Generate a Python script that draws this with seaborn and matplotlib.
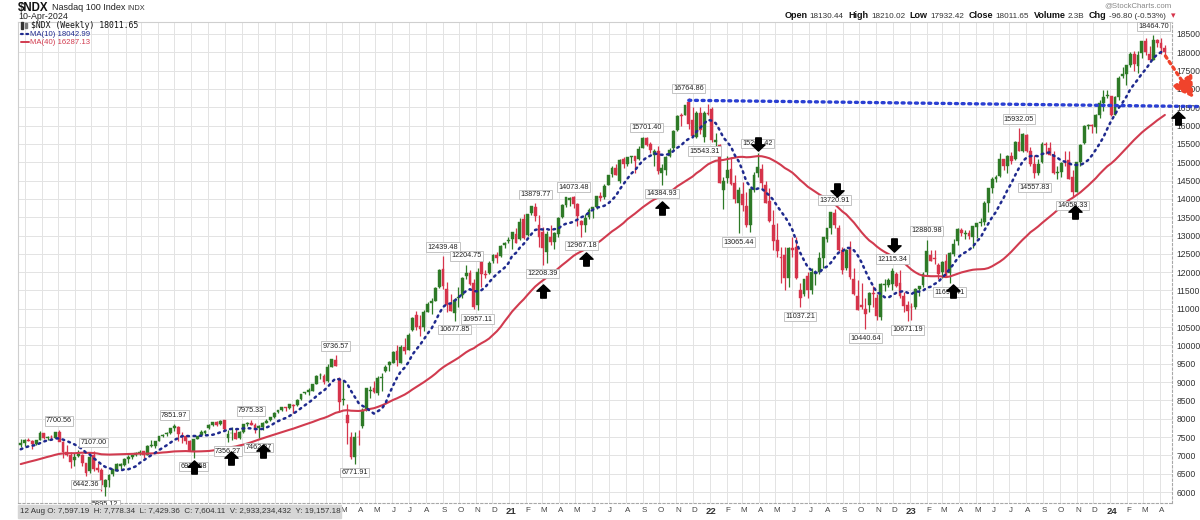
import numpy as np
import pandas as pd
import matplotlib
matplotlib.use("Agg")
import matplotlib.pyplot as plt
import matplotlib.dates as mdates
import matplotlib.transforms as mtransforms
from matplotlib.path import Path
from matplotlib.patches import Rectangle
from matplotlib.lines import Line2D
import seaborn as sns

# ---------------- data (weekly NDX candles) ----------------
PRE_FIRST_WEEK = "2017-10-23"      # closes before the visible window (moving-average warm-up)
pre_close = [6240, 6300, 6310, 6320, 6420, 6350, 6330, 6440, 6440, 6400,
             6600, 6720, 6830, 7000, 6750, 6480, 6780, 6880, 6850,
             7110, 7030, 6560, 6580, 6470, 6650, 6670, 6680, 6770,
             6960, 6920, 6960, 7070, 7100, 7220, 7140, 7040, 7170, 7330, 7290]

FIRST_WEEK = "2018-07-23"
open_2018 = [7290, 7330, 7420, 7400, 7300, 7430, 7610, 7480, 7500, 7480, 7640, 7360, 7100, 7010, 6860,
             6980, 7000, 6780, 6560, 7010, 6650, 6610, 6150, 6330]
high_2018 = [7460, 7440, 7480, 7410, 7430, 7660, 7620, 7520, 7560, 7630, 7700.56, 7380, 7270, 7100, 7060,
             7150, 7030, 6790, 6990, 7107.00, 6800, 6660, 6360, 6480]
low_2018 = [7240, 7250, 7390, 7180, 7290, 7420, 7440, 7430, 7420, 7470, 7420, 6920, 6980, 6650, 6700,
            6950, 6700, 6442.36, 6520, 6580, 6550, 6040, 5895.12, 6140]
close_2018 = [7340, 7420, 7400, 7300, 7420, 7620, 7480, 7510, 7490, 7630, 7360, 7100, 7010, 6830, 6960,
              7030, 6800, 6530, 6950, 6640, 6600, 6190, 6330, 6460]

open_2019 = [6480, 6580, 6720, 6750, 6890, 6960, 7010, 7070, 7110, 7010, 7260, 7250,
             7400, 7530, 7580, 7600, 7740, 7780, 7550, 7520, 7380, 7110, 7450, 7550, 7620,
             7740, 7830, 7900, 7850, 7960, 7480, 7597.19, 7620, 7480, 7630, 7860, 7890, 7840, 7740,
             7780, 7880, 7960, 8050, 8180, 8230, 8320, 8290, 8380, 8380, 8530, 8690, 8740]
high_2019 = [6630, 6780, 6790, 6930, 7010, 7010, 7080, 7140, 7130, 7280, 7410, 7400,
             7530, 7580, 7630, 7760, 7851.97, 7790, 7640, 7560, 7420, 7460, 7540, 7690, 7690,
             7850, 7920, 7940, 7960, 7960, 7680, 7778.34, 7730, 7660, 7860, 7900, 7975.33, 7870, 7820,
             7900, 7990, 8060, 8170, 8240, 8320, 8330, 8410, 8400, 8530, 8680, 8740, 8830]
low_2019 = [6430, 6560, 6640, 6720, 6800, 6910, 6980, 7020, 6940, 7000, 7220, 7200,
            7390, 7500, 7540, 7580, 7660, 7380, 7330, 7320, 7130, 6936.58, 7440, 7540, 7580,
            7730, 7800, 7800, 7840, 7680, 7356.27, 7429.36, 7450, 7460, 7600, 7800, 7820, 7620, 7462.37,
            7700, 7870, 7930, 8010, 8150, 8200, 8210, 8270, 8150, 8350, 8520, 8680, 8650]
close_2019 = [6620, 6760, 6760, 6890, 6960, 7000, 7060, 7100, 7000, 7250, 7260, 7380,
              7530, 7560, 7600, 7740, 7790, 7570, 7530, 7390, 7130, 7450, 7530, 7630, 7670,
              7830, 7900, 7830, 7950, 7710, 7580, 7604.11, 7460, 7650, 7850, 7880, 7840, 7700, 7800,
              7880, 7950, 8040, 8160, 8230, 8310, 8280, 8400, 8340, 8500, 8670, 8730, 8790]

open_2020 = [8760, 8960, 9180, 9170, 9020, 9420, 9610, 9080, 8500, 8100, 7500, 6960, 7500,
             7800, 8230, 8760, 8840, 8690, 9100, 9300, 9470, 9530, 9860, 9530, 9960, 9880,
             10410, 10830, 10530, 10500, 10920, 11160, 11220, 11600, 12080, 11550, 11140, 10890, 11300,
             11380, 11900, 11970, 11700, 11100, 12280, 11960, 11990, 12300, 12470, 12430, 12750, 12860]
high_2020 = [8960, 9180, 9250, 9220, 9480, 9630, 9736.57, 9150, 9070, 8400, 7640, 7650, 7700,
             8300, 8840, 8880, 9020, 9160, 9260, 9460, 9580, 9850, 10000, 10000, 10200, 10340,
             10780, 10950, 10820, 10960, 11190, 11290, 11590, 12080, 12439.48, 11720, 11400, 11300, 11590,
             11860, 12204.75, 12050, 11800, 12100, 12300, 12050, 12300, 12500, 12560, 12730, 12810, 12960]
low_2020 = [8760, 8940, 9080, 8960, 9000, 9400, 9440, 8190, 8380, 7300, 6900, 6771.91, 7280,
            7760, 8200, 8570, 8700, 8650, 8750, 9280, 9290, 9510, 9440, 9520, 9760, 9870,
            10390, 10430, 10250, 10400, 10920, 10870, 11200, 11560, 11530, 10900, 10930, 10677.85, 11060,
            11300, 11800, 11650, 11000, 10957.11, 11590, 11850, 11960, 12240, 12250, 12420, 12650, 12790]
close_2020 = [8950, 9170, 9180, 8990, 9400, 9620, 9450, 8460, 8530, 7880, 6960, 7500, 7490,
              8230, 8830, 8790, 8720, 9120, 9150, 9410, 9550, 9810, 9590, 9950, 9850, 10290,
              10760, 10500, 10460, 10910, 11130, 11200, 11570, 12050, 11620, 11090, 10940, 11240, 11330,
              11850, 11970, 11680, 11050, 12000, 11940, 11910, 12260, 12460, 12380, 12720, 12800, 12890]

open_2021 = [12910, 13050, 12900, 13450, 13020, 13610, 13790, 13300, 13100, 12560, 12960, 12810, 13050,
             13500, 13840, 13980, 14050, 13870, 13400, 13290, 13500, 13730, 13790, 14070, 14050, 14380,
             14680, 14850, 14500, 15100, 14960, 15150, 15170, 15080, 15400, 15670, 15500, 15200, 15300,
             14700, 14800, 15160, 15380, 15870, 16280, 16300, 16650, 16150, 15700, 16350, 15700, 16350]
high_2021 = [13100, 13200, 13480, 13600, 13600, 13810, 13879.77, 13550, 13230, 13130, 13300, 13100, 13500,
             13850, 14040, 14060, 14073.48, 13890, 13420, 13580, 13740, 13790, 14080, 14190, 14400, 14650,
             14900, 14950, 15080, 15130, 15150, 15180, 15170, 15430, 15700, 15701.40, 15560, 15350, 15450,
             14950, 15170, 15400, 15870, 16300, 16350, 16573, 16764.86, 16500, 16400, 16500, 16400, 16600]
low_2021 = [12630, 12790, 12880, 12900, 12990, 13560, 13400, 12700, 12208.39, 12250, 12750, 12620, 12960,
            13470, 13780, 13800, 13750, 13260, 12967.18, 13100, 13450, 13480, 13730, 13940, 14000, 14370,
            14600, 14650, 14440, 14840, 14890, 14990, 14700, 15070, 15380, 15450, 15240, 14900, 14680,
            14384.93, 14650, 15130, 15330, 15860, 16000, 16280, 15900, 15700, 15650, 15780, 15543.31, 16300]
close_2021 = [13100, 12800, 13370, 12930, 13590, 13800, 13530, 12950, 12670, 13030, 12810, 13060, 13480,
              13840, 14040, 14020, 13860, 13540, 13300, 13470, 13690, 13780, 14070, 14030, 14360, 14640,
              14830, 14650, 15050, 14960, 15130, 15150, 15030, 15370, 15650, 15460, 15330, 15310, 14770,
              14830, 15150, 15340, 15850, 16270, 16270, 16570, 16030, 15710, 16330, 15880, 16330, 16320]

open_2022 = [16440, 15560, 15460, 14250, 14560, 14810, 14440, 13880, 14130, 13800, 13300, 14250, 14700,
             14820, 14380, 13950, 13300, 12880, 12400, 12460, 11850, 12650, 12700, 11500, 11400, 11900,
             11500, 11950, 12000, 12390, 12900, 13210, 13610, 13200, 12600, 12100, 12700, 11800, 11350,
             11100, 11000, 11100, 11430, 11300, 10770, 11650, 11650, 11680, 11950, 11700, 11350, 11100]
high_2022 = [16520, 15800, 15500, 14600, 15180, 15150, 14650, 14330, 14450, 14200, 14300, 14720, 15265.42,
             14940, 14500, 14300, 13700, 13330, 12700, 12690, 12700, 12950, 12950, 11700, 11810, 12000,
             12100, 12050, 12550, 12960, 13210, 13650, 13720.91, 13300, 12700, 12630, 12850, 12100, 11780,
             11700, 11300, 11460, 11620, 11400, 11710, 11800, 11850, 12115.34, 12000, 12050, 11450, 11200]
low_2022 = [15550, 15200, 14430, 13720, 14420, 14380, 13900, 13065.44, 13680, 13220, 13100, 14200, 14600,
            14300, 13900, 13360, 12600, 12400, 11700, 11500, 11600, 12400, 11820, 11037.21, 11350, 11300,
            11400, 11650, 11950, 12100, 12830, 13040, 13200, 12590, 11950, 12070, 11800, 11390, 10970,
            11000, 10440.64, 10900, 11050, 10690, 10700, 11490, 11600, 11520, 11590, 11300, 10900, 10671.19]
close_2022 = [15610, 15620, 14440, 14500, 14790, 14400, 13990, 14250, 13840, 13300, 14260, 14650, 14860,
              14430, 13900, 13400, 12850, 12580, 12390, 11840, 12650, 12600, 11830, 11300, 11800, 11500,
              12000, 11980, 12380, 12950, 13200, 13630, 13290, 12600, 12060, 12600, 11860, 11400, 10980,
              11050, 10860, 11430, 11400, 10800, 11690, 11680, 11780, 12020, 11620, 11360, 11070, 10940]

open_2023 = [11050, 11050, 11540, 11650, 12000, 12480, 12380, 12200, 12000, 12300, 11970, 12500, 12850,
             13150, 13050, 13080, 12950, 13230, 13340, 13360, 13900, 14300, 14550, 14620, 15080, 14900,
             15170, 15100, 15560, 15300, 15750, 15300, 14950, 14700, 15000, 15500, 15400, 15200, 14700,
             14720, 15000, 15050, 14600, 14200, 15000, 15520, 16000, 16010, 15950, 16300, 16620, 16800]
high_2023 = [11150, 11560, 11630, 12000, 12880.98, 12600, 12600, 12250, 12300, 12500, 12550, 12900, 13200,
             13200, 13150, 13140, 13260, 13350, 13480, 13940, 14310, 14600, 14650, 15260, 15100, 15200,
             15270, 15580, 15932.05, 15800, 15770, 15420, 15200, 15100, 15550, 15560, 15560, 15300, 14900,
             15000, 15300, 15300, 14800, 15010, 15510, 16010, 16030, 16050, 16310, 16690, 16960, 16980]
low_2023 = [10700, 11000, 11350, 11600, 11900, 12300, 12230, 11800, 11850, 11890, 11695.41, 12430, 12750,
            12980, 12900, 12900, 12660, 12920, 13260, 13300, 13650, 14150, 14450, 14600, 14790, 14700,
            14950, 15050, 15300, 15280, 15290, 14900, 14557.83, 14650, 14990, 15230, 15190, 14690, 14550,
            14600, 14900, 14540, 14058.33, 14190, 14900, 15500, 15900, 15800, 15800, 16200, 16400, 16760]
close_2023 = [11040, 11540, 11620, 11960, 12570, 12300, 12360, 11950, 12270, 11900, 12520, 12770, 13180,
              13060, 13080, 13000, 13250, 13340, 13340, 13900, 14300, 14550, 14600, 15080, 14890, 15180,
              15030, 15560, 15320, 15760, 15300, 14950, 14700, 14940, 15500, 15460, 15190, 14710, 14720,
              14990, 14990, 14540, 14180, 15000, 15480, 15980, 16000, 15980, 16280, 16620, 16780, 16830]

open_2024 = [16800, 16300, 16780, 17350, 17410, 17640, 17950, 17630, 17970, 18300, 17950, 17800, 18340,
             18250, 18130.44]
high_2024 = [16820, 16800, 17340, 17600, 17660, 18010, 18040, 18040, 18310, 18400, 18180, 18464.70, 18370,
             18380, 18210.02]
low_2024 = [16250, 16280, 16700, 17300, 17100, 17600, 17500, 17430, 17840, 17930, 17790, 17780, 18150,
            17950, 17932.42]
close_2024 = [16300, 16770, 17310, 17420, 17640, 17960, 17690, 17940, 18300, 18020, 17800, 18340, 18250,
              18110, 18011.65]

# swing-point value labels (week, side)
high_label_weeks = ["2018-10-01", "2018-12-03", "2019-04-29", "2019-09-16", "2020-02-17", "2020-08-31",
                    "2020-10-12", "2021-02-15", "2021-04-26", "2021-09-06", "2021-11-22", "2022-03-28",
                    "2022-08-15", "2022-11-28", "2023-01-30", "2023-07-17", "2024-03-18"]
low_label_weeks = ["2018-11-19", "2018-12-24", "2019-06-03", "2019-08-05", "2019-09-30", "2020-03-23",
                   "2020-09-21", "2020-11-02", "2021-03-01", "2021-05-10", "2021-10-04", "2021-12-20",
                   "2022-02-21", "2022-06-13", "2022-10-10", "2022-12-26", "2023-03-13", "2023-08-14",
                   "2023-10-23"]
# black block arrows: (labelled week, direction, gap in px from the extreme, x shift in days)
arrow_marks = [("2019-06-03", "up", 8, 0), ("2019-08-05", "up", 15, 6), ("2019-09-30", "up", 12, 8),
               ("2021-03-01", "up", 25, 0), ("2021-05-10", "up", 21, 8), ("2021-10-04", "up", 22, 0),
               ("2022-03-28", "down", 8, 0), ("2022-08-15", "down", 18, 5), ("2022-11-28", "down", 22, 4),
               ("2023-03-13", "up", 7, 6), ("2023-10-23", "up", 14, 5)]
right_arrow = ("2024-05-04", 16200)
trend_start_week, trend_start_value = "2021-11-22", 16690
trend_end_date, trend_end_value = "2024-06-10", 16520
red_arrow_from = ("2024-04-11", 17900)
red_arrow_to = ("2024-06-01", 16760)

legend_close, legend_ma10, legend_ma40 = "18011.65", "18042.99", "16287.13"
header_values = [("Open", "18130.44"), ("High", "18210.02"), ("Low", "17932.42"),
                 ("Close", "18011.65"), ("Volume", "2.3B"), ("Chg", "-96.80 (-0.53%)")]
hover_week = "2019-08-12"
hover_volume, hover_y = "2,933,234,432", "19,157.18"
y_ticks = list(range(6000, 18501, 500))

# ---------------- assemble ----------------
opens = np.array(open_2018 + open_2019 + open_2020 + open_2021 + open_2022 + open_2023 + open_2024, float)
highs = np.array(high_2018 + high_2019 + high_2020 + high_2021 + high_2022 + high_2023 + high_2024, float)
lows = np.array(low_2018 + low_2019 + low_2020 + low_2021 + low_2022 + low_2023 + low_2024, float)
closes = np.array(close_2018 + close_2019 + close_2020 + close_2021 + close_2022 + close_2023 + close_2024, float)
n = len(closes)
assert len(opens) == len(highs) == len(lows) == n, (len(opens), len(highs), len(lows), n)

weeks = pd.date_range(FIRST_WEEK, periods=n, freq="7D")
pre_weeks = pd.date_range(PRE_FIRST_WEEK, periods=len(pre_close), freq="7D")
all_close = pd.Series(list(pre_close) + list(closes), index=pre_weeks.append(weeks))
ma10 = all_close.rolling(10).mean().loc[weeks].values
ma40 = all_close.rolling(40).mean().loc[weeks].values
xs = mdates.date2num(weeks + pd.Timedelta(days=2))
widx = {d.strftime("%Y-%m-%d"): i for i, d in enumerate(weeks)}

def dnum(s):
    return mdates.date2num(pd.Timestamp(s))

# ---------------- figure ----------------
sns.set_theme(style="white")
plt.rcParams["font.family"] = ["Liberation Sans", "DejaVu Sans"]

W, H = 1200, 520
fig = plt.figure(figsize=(12, 5.2), dpi=100)
fig.patch.set_facecolor("white")
L_PX, R_PX, T_PX, B_PX = 18, 1172, 22, 503
ax = fig.add_axes([L_PX / W, 1 - B_PX / H, (R_PX - L_PX) / W, (B_PX - T_PX) / H])
ax.set_facecolor("white")

X0, X1 = dnum("2018-07-20"), dnum("2024-04-23")
Y0, Y1 = 5700, 18827
ax.set_xlim(X0, X1)
ax.set_ylim(Y0, Y1)
units_per_px = (Y1 - Y0) / (B_PX - T_PX)
days_per_px = (X1 - X0) / (R_PX - L_PX)

GREEN = "#2e7a27"
RED = "#d6344b"
MA40_C = "#d13b4f"
MA10_C = "#1f2a8e"
GRID_C = "#e3e3e3"

# grid: months vertical, 500s horizontal
month_starts = pd.date_range("2018-08-01", "2024-04-01", freq="MS")
ax.set_xticks(mdates.date2num(month_starts))
ax.set_yticks(y_ticks)
ax.grid(True, color=GRID_C, lw=0.7, zorder=0)
ax.set_axisbelow(True)
ax.tick_params(axis="x", length=0, labelbottom=False)
ax.yaxis.tick_right()
ax.tick_params(axis="y", length=0, pad=3, labelsize=6.2, colors="#333333")
ax.set_yticklabels([str(v) for v in y_ticks])
for sp in ("top", "left"):
    ax.spines[sp].set_color("#cfcfcf")
    ax.spines[sp].set_linewidth(0.8)
for sp in ("right", "bottom"):
    ax.spines[sp].set_color("#a8a8a8")
    ax.spines[sp].set_linewidth(0.8)
    ax.spines[sp].set_linestyle((0, (2, 2)))

# month letters & year numbers (those under the hover strip are hidden in the source)
STRIP_RIGHT_PX = 341
blend = mtransforms.blended_transform_factory(ax.transData, ax.transAxes)
y_lab = -(511 - B_PX) / (B_PX - T_PX)
letters = "JFMAMJJASOND"
for m in month_starts:
    xm = mdates.date2num(m) + 3
    if L_PX + (xm - X0) / days_per_px < STRIP_RIGHT_PX + 2:
        continue
    if m.month == 1:
        ax.text(xm, y_lab, f"{m.year % 100:02d}", transform=blend, ha="center", va="center",
                fontsize=6.8, fontweight="bold", color="#333333", clip_on=False)
    else:
        ax.text(xm, y_lab, letters[m.month - 1], transform=blend, ha="center", va="center",
                fontsize=5.8, color="#444444", clip_on=False)

# candles
colors = np.where(closes >= opens, GREEN, RED)
ax.vlines(xs, lows, highs, colors=colors, lw=0.9, zorder=3)
body_bottom = np.minimum(opens, closes)
body_h = np.maximum(np.abs(closes - opens), 20)
ax.bar(xs, body_h, bottom=body_bottom, width=5.2, color=colors, edgecolor=colors, lw=0.3, zorder=4)

# moving averages (seaborn)
sns.lineplot(x=xs, y=ma40, ax=ax, color=MA40_C, lw=1.5, zorder=5)
sns.lineplot(x=xs, y=ma10, ax=ax, color=MA10_C, lw=1.8, linestyle=(0, (0.7, 1.8)),
             dash_capstyle="round", zorder=6)
ax.set_xlabel("")
ax.set_ylabel("")

# swing labels
box = dict(boxstyle="square,pad=0.18", fc="white", ec="#b9b9b9", lw=0.6)
for wk in high_label_weeks:
    i = widx[wk]
    ax.annotate(f"{highs[i]:.2f}", (xs[i], highs[i]), xytext=(0, 6.4), textcoords="offset points",
                ha="center", va="center", fontsize=5.2, color="#222222", bbox=box, zorder=8,
                annotation_clip=False)
for wk in low_label_weeks:
    i = widx[wk]
    ax.annotate(f"{lows[i]:.2f}", (xs[i], lows[i]), xytext=(0, -6.4), textcoords="offset points",
                ha="center", va="center", fontsize=5.2, color="#222222", bbox=box, zorder=8,
                annotation_clip=False)

# black block arrows
up_verts = [(0, 1), (1, 0.05), (0.42, 0.05), (0.42, -1), (-0.42, -1), (-0.42, 0.05), (-1, 0.05), (0, 1)]
codes = [Path.MOVETO] + [Path.LINETO] * 6 + [Path.CLOSEPOLY]
UP = Path(up_verts, codes)
DOWN = Path([(vx, -vy) for vx, vy in up_verts], codes)
for wk, direction, gap, shift in arrow_marks:
    i = widx[wk]
    if direction == "up":
        yv = lows[i] - (gap + 1) * units_per_px
        mk = UP
    else:
        yv = highs[i] + (gap + 1) * units_per_px
        mk = DOWN
    ax.plot([xs[i] + shift], [yv], marker=mk, ms=9.5, color="black", zorder=9, clip_on=False)
ax.plot([dnum(right_arrow[0])], [right_arrow[1]], marker=UP, ms=9.5, color="black", zorder=9,
        clip_on=False)

# hand-drawn dotted resistance line
ts = xs[widx[trend_start_week]]
ax.plot([ts, dnum(trend_end_date)], [trend_start_value, trend_end_value], color="#2a3fd2", lw=2.4,
        linestyle=(0, (0.6, 1.4)), dash_capstyle="round", zorder=7, clip_on=False)

# red dotted arrow
ax.annotate("", xy=(dnum(red_arrow_to[0]), red_arrow_to[1]),
            xytext=(dnum(red_arrow_from[0]), red_arrow_from[1]),
            arrowprops=dict(arrowstyle="-|>,head_length=1.0,head_width=0.6", color="#f0432c", lw=2.4,
                            linestyle=(0, (0.8, 1.2)), shrinkA=0, shrinkB=0),
            annotation_clip=False, zorder=9)

# ---------------- header & legend text ----------------
renderer = fig.canvas.get_renderer()

def px(xp, yp):
    return xp / W, 1 - yp / H

def run(x0, y, pieces, right=False):
    cur = x0
    seq = pieces[::-1] if right else pieces
    for s, gap, kw in seq:
        if right:
            cur -= gap
        t = fig.text(*px(cur, y), s, ha="right" if right else "left", va="center", **kw)
        w = t.get_window_extent(renderer).width
        if right:
            cur -= w
        else:
            cur += w + gap

run(18, 8, [("$NDX", 3, dict(fontsize=8.3, fontweight="bold", color="#111111")),
            ("Nasdaq 100 Index", 3, dict(fontsize=6.5, color="#222222")),
            ("INDX", 0, dict(fontsize=5.3, color="#333333"))])
fig.text(*px(18, 16.5), "10-Apr-2024", ha="left", va="center", fontsize=6.4, color="#222222")

pieces = []
for lab, val in header_values:
    pieces.append((lab, 2.5, dict(fontsize=6.5, fontweight="bold", color="#111111")))
    pieces.append((val, 4.5, dict(fontsize=5.9, color="#333333")))
pieces.append(("\u25BE", 0, dict(fontsize=6.5, color="#d6344b", family=["DejaVu Sans"])))
run(1175, 16, pieces, right=True)
fig.text(*px(1172, 6), "@StockCharts.com", ha="right", va="center", fontsize=5.6, color="#888888")

# legend inside the plot
ax_icon = Rectangle((21 / W, 1 - 29 / H), 2 / W, 7 / H, transform=fig.transFigure, color="#333333")
ax_icon2 = Rectangle((25 / W, 1 - 28 / H), 2 / W, 5 / H, transform=fig.transFigure, color="#777777")
fig.patches.extend([ax_icon, ax_icon2])
fig.text(*px(31, 25.5), f"$NDX (Weekly) {legend_close}", ha="left", va="center", fontsize=5.9,
         family=["DejaVu Sans Mono"], color="#111111")
fig.lines.append(Line2D([21 / W, 29 / W], [1 - 34 / H] * 2, transform=fig.transFigure, color=MA10_C,
                        lw=1.6, linestyle=(0, (0.8, 1.6)), dash_capstyle="round"))
fig.text(*px(30, 34), f"MA(10) {legend_ma10}", ha="left", va="center", fontsize=5.6, color=MA10_C)
fig.lines.append(Line2D([21 / W, 29 / W], [1 - 42 / H] * 2, transform=fig.transFigure, color=MA40_C,
                        lw=1.4))
fig.text(*px(30, 42), f"MA(40) {legend_ma40}", ha="left", va="center", fontsize=5.6, color=MA40_C)

# hover info strip at the bottom-left
hi = widx[hover_week]
fig.patches.append(Rectangle((18 / W, 1 - 518 / H), (STRIP_RIGHT_PX - 18) / W, 13 / H,
                             transform=fig.transFigure, color="#d6d6d6", zorder=5))
hover_txt = (f"{weeks[hi].day} {weeks[hi].strftime('%b')} O: {opens[hi]:,.2f}  H: {highs[hi]:,.2f}  "
             f"L: {lows[hi]:,.2f}  C: {closes[hi]:,.2f}  V: {hover_volume}  Y: {hover_y}")
fig.text(*px(20, 511.5), hover_txt, ha="left", va="center", fontsize=5.8, color="#333333", zorder=6)

fig.savefig("out.png", dpi=100, facecolor="white")
